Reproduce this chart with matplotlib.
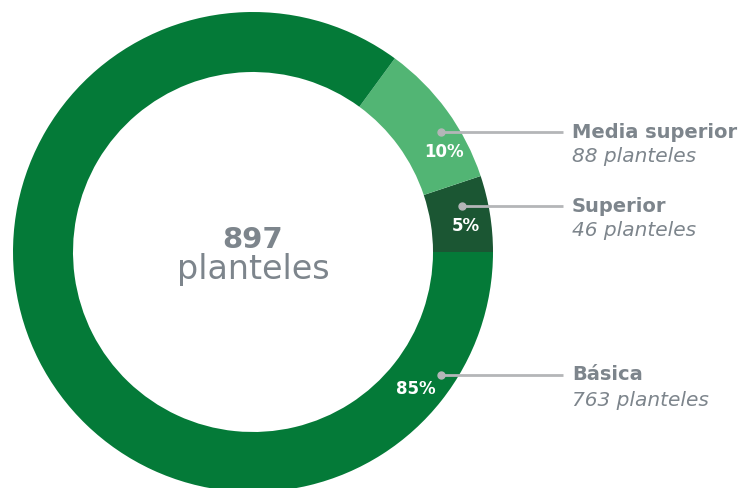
import matplotlib
matplotlib.use("Agg")
import matplotlib.pyplot as plt

categories = ["Superior", "Media superior", "Básica"]
values = [46, 88, 763]
colors = ["#1B5633", "#52B574", "#047A38"]

total = sum(values)
W, H = 747, 488
fig = plt.figure(figsize=(W / 100, H / 100), dpi=100)
ax = fig.add_axes([0, 0, 1, 1])

cx, cy = 253, H - 252
R = 240
ax.pie(values, colors=colors, startangle=0, counterclock=True, radius=R,
       center=(cx, cy), wedgeprops=dict(width=60, linewidth=0))
ax.set_xlim(0, W)
ax.set_ylim(0, H)
ax.set_aspect("equal")
ax.axis("off")

FONT = "DejaVu Sans"
grey = "#7D858C"
line_c = "#B4B6B8"

ax.text(cx, H - 240, f"{total}", ha="center", va="center", fontsize=21,
        fontweight="bold", color=grey, family=FONT)
ax.text(cx, H - 270, "planteles", ha="center", va="center", fontsize=24,
        color=grey, family=FONT)

# label layout per category (pixel positions): dot, percent label, text y
layout = {
    "Media superior": dict(dot=(441, 132), pct=(444, 152), ty=132),
    "Superior": dict(dot=(462, 206), pct=(466, 226), ty=206),
    "Básica": dict(dot=(441, 375), pct=(416, 389), ty=375),
}
for cat, v in zip(categories, values):
    L = layout[cat]
    dx, dy = L["dot"]
    ax.plot([dx, 563], [H - dy, H - dy], color=line_c, lw=2, solid_capstyle="butt")
    ax.plot([dx], [H - dy], "o", color=line_c, ms=5)
    px, py = L["pct"]
    ax.text(px, H - py, f"{round(100 * v / total)}%", ha="center", va="center",
            fontsize=12, fontweight="bold", color="white", family=FONT)
    ax.text(572, H - L["ty"], cat, ha="left", va="center", fontsize=14,
            fontweight="bold", color=grey, family=FONT)
    ax.text(572, H - L["ty"] - 25, f"{v} planteles", ha="left", va="center",
            fontsize=14.5, style="italic", color=grey, family=FONT)

fig.savefig("out.png", dpi=100)
